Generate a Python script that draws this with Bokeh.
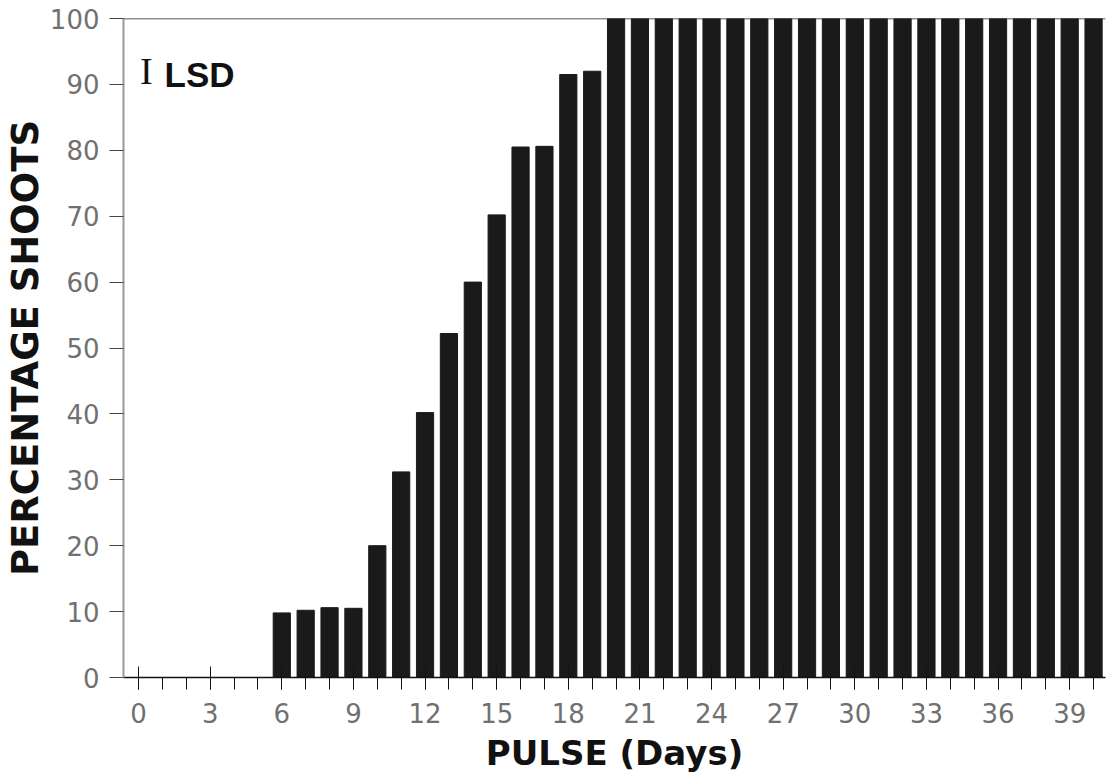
from bokeh.plotting import figure
from bokeh.models import FixedTicker, Range1d, Span, Label
from bokeh.embed import file_html
from bokeh.resources import INLINE

# Data
days = list(range(6, 41))
shoots = [9.8, 10.2, 10.6, 10.5, 20.0, 31.2, 40.2, 52.2, 60.0, 70.2, 80.5, 80.6, 91.5, 92.0,
          100, 100, 100, 100, 100, 100, 100, 100, 100, 100, 100, 100, 100, 100, 100, 100,
          100, 100, 100, 100, 100]
x_tick_values = list(range(0, 40, 3))
x_minor_ticks = list(range(0, 41))
y_tick_values = list(range(0, 101, 10))
x_label = "PULSE (Days)"
y_label = "PERCENTAGE SHOOTS"

p = figure(width=1110, height=782, output_backend="svg", toolbar_location=None,
           x_range=Range1d(-0.63, 40.5), y_range=Range1d(0, 100),
           min_border_left=122, min_border_right=5, min_border_top=18, min_border_bottom=105)
p.background_fill_color = "white"
p.border_fill_color = "white"
p.outline_line_color = None
p.grid.visible = False

p.vbar(x=days, top=shoots, width=0.72, bottom=0, color="#1a1a1a")

# top border line at 100
p.add_layout(Span(location=100, dimension="width", line_color="#222222", line_width=1.5))

tick_font = "DejaVu Sans"
label_font = "DejaVu Sans"

xa = p.xaxis[0]
xa.ticker = FixedTicker(ticks=x_tick_values, minor_ticks=x_minor_ticks)
xa.major_tick_out = 12
xa.major_tick_in = 11
xa.minor_tick_out = 12
xa.minor_tick_in = 0
xa.axis_line_color = "#111111"
xa.axis_line_width = 1.5
xa.major_tick_line_color = "#111111"
xa.minor_tick_line_color = "#111111"
xa.major_label_text_font = tick_font
xa.major_label_text_font_size = "26px"
xa.major_label_text_color = "#707070"
xa.major_label_standoff = 13
xa.axis_label = x_label
xa.axis_label_text_font = label_font
xa.axis_label_text_font_style = "bold"
xa.axis_label_text_font_size = "34px"
xa.axis_label_text_color = "#111111"
xa.axis_label_standoff = 7

ya = p.yaxis[0]
ya.ticker = FixedTicker(ticks=y_tick_values, minor_ticks=[])
ya.major_tick_out = 14
ya.major_tick_in = 0
ya.axis_line_color = "#999999"
ya.axis_line_width = 2
ya.major_tick_line_color = "#444444"
ya.major_label_text_font = tick_font
ya.major_label_text_font_size = "26px"
ya.major_label_text_color = "#707070"
ya.major_label_standoff = 10
ya.axis_label = y_label
ya.axis_label_text_font = label_font
ya.axis_label_text_font_style = "bold"
ya.axis_label_text_font_size = "37px"
ya.axis_label_text_color = "#111111"
ya.axis_label_standoff = 0

p.add_layout(Label(x=0.33, y=92.0, text="I", text_font="Liberation Serif",
                   text_font_size="38px", text_color="#111111", text_align="center",
                   text_baseline="alphabetic"))
p.add_layout(Label(x=1.09, y=91.5, text="LSD", text_font="Liberation Sans", text_font_style="bold",
                   text_font_size="35px", text_color="#111111", text_align="left",
                   text_baseline="alphabetic"))

open("out.html", "w").write(file_html(p, INLINE))
